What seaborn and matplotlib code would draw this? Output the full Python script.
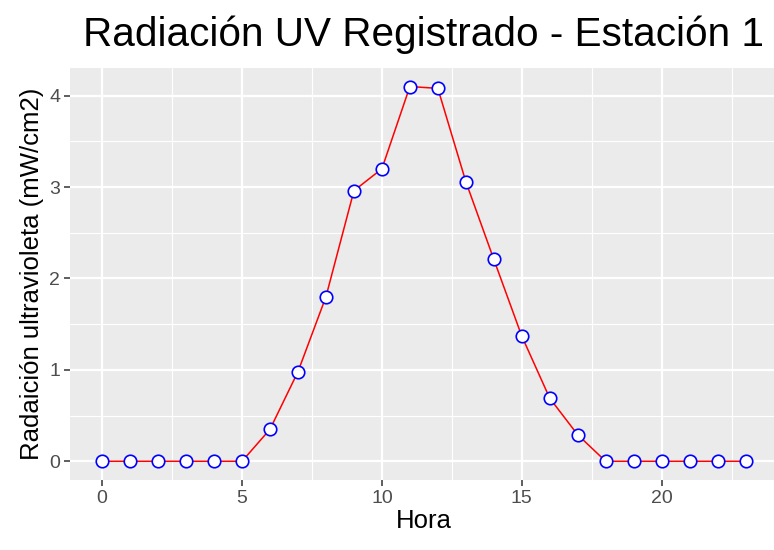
import numpy as np
import pandas as pd
import matplotlib
matplotlib.use("Agg")
import matplotlib.pyplot as plt
import seaborn as sns
from matplotlib.ticker import MultipleLocator

hours = list(range(24))
uv = [0, 0, 0, 0, 0, 0, 0.35, 0.98, 1.80, 2.96, 3.20, 4.10, 4.08, 3.06,
      2.21, 1.37, 0.69, 0.29, 0, 0, 0, 0, 0, 0]
title = "Radiación UV Registrado - Estación 1"
xlabel = "Hora"
ylabel = "Radaición ultravioleta (mW/cm2)"

df = pd.DataFrame({"Hora": hours, "UV": uv})

sns.set_theme(style="darkgrid")
plt.rcParams['font.family'] = ['Liberation Sans', 'DejaVu Sans']

fig = plt.figure(figsize=(7.74, 5.5), dpi=100)
ax = fig.add_axes([70/774, 70/550, (777.7-70)/774, (480-67.8)/550])
ax.set_facecolor("#EBEBEB")

sns.lineplot(data=df, x="Hora", y="UV", ax=ax, color="red", linewidth=1.1,
             marker="o", markersize=9, markerfacecolor="white",
             markeredgecolor="blue", markeredgewidth=1.2, zorder=3)

ax.set_xlim(-1.15, 24.15)
ax.set_ylim(-0.205, 4.305)
ax.xaxis.set_major_locator(MultipleLocator(5))
ax.xaxis.set_minor_locator(MultipleLocator(2.5))
ax.yaxis.set_major_locator(MultipleLocator(1))
ax.yaxis.set_minor_locator(MultipleLocator(0.5))
ax.grid(which="major", color="white", linewidth=1.6)
ax.grid(which="minor", color="white", linewidth=0.8)
ax.set_axisbelow(True)
for s in ax.spines.values():
    s.set_visible(False)
ax.tick_params(which="major", bottom=True, left=True, length=4, width=1.1,
               color="#333333", labelcolor="#4D4D4D", labelsize=14, pad=3)
ax.tick_params(which="minor", length=0)

ax.set_xlabel(xlabel, fontsize=18.5, color="black", labelpad=2)
ax.set_ylabel(ylabel, fontsize=18.5, color="black", labelpad=4)
ax.set_title(title, fontsize=29.2, color="black", pad=16)

fig.savefig("out.png", dpi=100)
